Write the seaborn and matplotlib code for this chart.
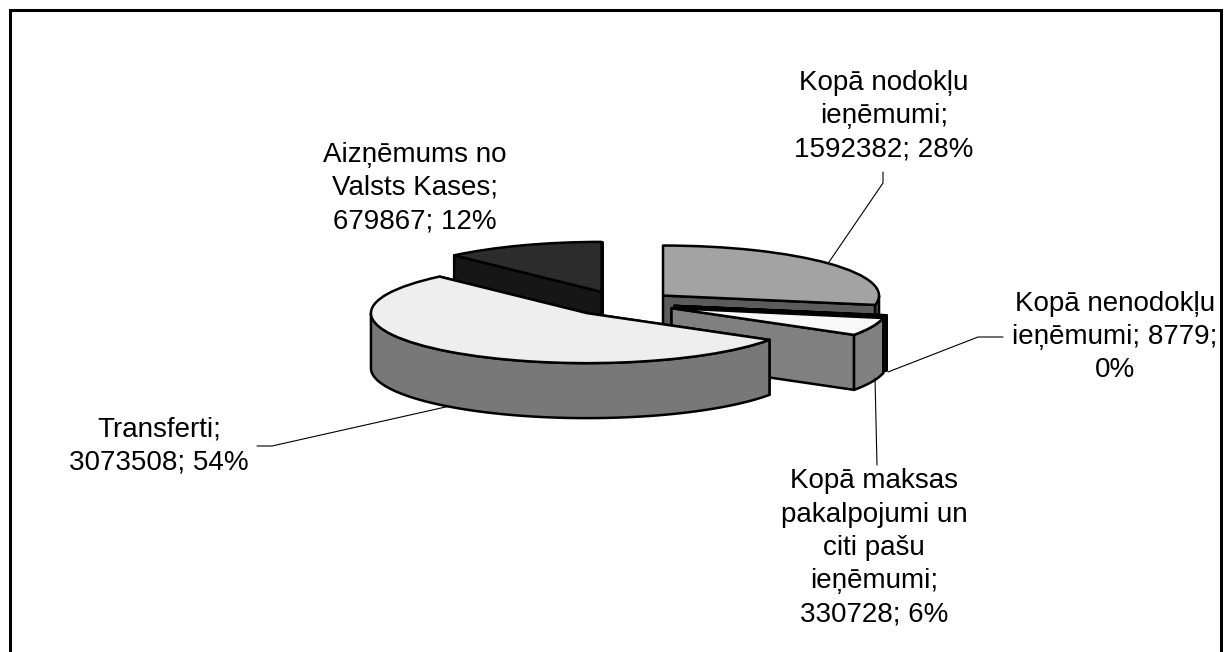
import numpy as np
import seaborn as sns
import matplotlib
matplotlib.use('Agg')
import matplotlib.pyplot as plt
from matplotlib.patches import Polygon
from matplotlib.transforms import Affine2D

# Datos del gráfico
categories = ['Kopā nodokļu ieņēmumi', 'Kopā nenodokļu ieņēmumi',
              'Kopā maksas pakalpojumi un citi pašu ieņēmumi', 'Transferti',
              'Aizņēmums no Valsts Kases']
values = [1592382, 8779, 330728, 3073508, 679867]
percents = [28, 0, 6, 54, 12]
top_colors = ['#a3a3a3', '#1a1a1a', '#f8f8f8', '#eeeeee', '#2c2c2c']
side_colors = ['#5c5c5c', '#333333', '#808080', '#787878', '#161616']

# Saltos de línea de las etiquetas
label_lines = [['Kopā nodokļu', 'ieņēmumi;', '{v}; {p}%'],
               ['Kopā nenodokļu', 'ieņēmumi; {v};', '{p}%'],
               ['Kopā maksas', 'pakalpojumi un', 'citi pašu', 'ieņēmumi;', '{v}; {p}%'],
               ['Transferti;', '{v}; {p}%'],
               ['Aizņēmums no', 'Valsts Kases;', '{v}; {p}%']]
label_pos = [(884, 116), (1115, 337), (874, 548), (159, 446), (415, 188)]
leaders = [[(883, 172), (883, 183), (829, 262)],
           [(1003, 337), (978, 337), (888, 372)],
           [(877, 465), (875, 378)],
           [(257, 446), (272, 446), (450, 406)]]

# Geometría de la tarta
cx, cy = 621.4, 303.5
rx, ry = 216, 50
depth = 55
pull = 54
draw_order = [4, 0, 1, 2, 3]

sns.set_theme(style='white')
plt.rcParams['font.family'] = ['Liberation Sans', 'DejaVu Sans']

fig = plt.figure(figsize=(12.29, 6.52), dpi=100)
ax = fig.add_axes([0, 0, 1, 1])

edge = dict(edgecolor='black', linewidth=1.8, joinstyle='round')
wedges, _ = ax.pie(values, radius=rx, explode=[pull] * len(values), startangle=90,
                   counterclock=False, colors=top_colors,
                   wedgeprops=edge)

squash = Affine2D().scale(1, -ry / rx).translate(cx, cy)


def to_px(x, y):
    return squash.transform(np.column_stack([x, y]))


def add_side(points, color, z):
    top = np.asarray(points)
    bottom = top[::-1] + [0, depth]
    ax.add_patch(Polygon(np.vstack([top, bottom]), closed=True, facecolor=color,
                         zorder=z, **edge))


for n, i in enumerate(draw_order):
    w = wedges[i]
    z = 10 + n * 5
    x0, y0 = w.center
    th = np.radians(np.linspace(w.theta1, w.theta2, 240))
    arc = to_px(x0 + w.r * np.cos(th), y0 + w.r * np.sin(th))
    tip = to_px([x0], [y0])[0]

    # Caras radiales, primero la más lejana
    ends = sorted([arc[0], arc[-1]], key=lambda p: p[1])
    add_side([tip, ends[0]], side_colors[i], z)
    add_side([tip, ends[1]], side_colors[i], z + 1)

    # Borde frontal: solo la parte del arco que mira hacia delante
    front = np.sin(th) <= 0
    if front.sum() > 1:
        add_side(arc[front], side_colors[i], z + 2)

    w.set_transform(squash + ax.transData)
    w.set_zorder(z + 3)

# Líneas guía
for pts in leaders:
    xs, ys = zip(*pts)
    ax.plot(xs, ys, color='black', lw=0.8, zorder=40)

# Etiquetas
for lines, pos, v, p in zip(label_lines, label_pos, values, percents):
    txt = '\n'.join(lines).format(v=v, p=p)
    ax.text(pos[0], pos[1], txt, ha='center', va='center', fontsize=20,
            linespacing=1.37, color='black', zorder=50)

# Marco exterior
ax.plot([9.5, 9.5, 1221, 1221], [652, 9.5, 9.5, 652], color='black', lw=2.2,
        solid_joinstyle='miter', zorder=60)

ax.set_aspect('auto')
ax.set_xlim(0, 1229)
ax.set_ylim(652, 0)
ax.axis('off')

plt.savefig('out.png', dpi=100, facecolor='white')
